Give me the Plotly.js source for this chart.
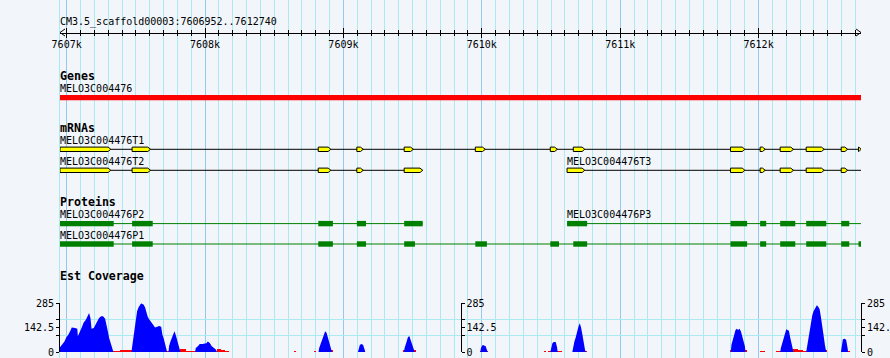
<!DOCTYPE html>
<html>
<head>
<meta charset="utf-8">
<script src="https://cdn.plot.ly/plotly-3.0.1.min.js"></script>
<style>html,body{margin:0;padding:0;background:#f2f5fa;}</style>
</head>
<body>
<div id="chart" style="width:890px;height:358px;"></div>
<script>
// ---------------- DATA ----------------
const regionStart = 7606952;
const regionEnd = 7612740;
const regionLabel = 'CM3.5_scaffold00003:7606952..7612740';
const rulerTickVals = [7607000, 7608000, 7609000, 7610000, 7611000, 7612000];
const rulerTickText = ['7607k', '7608k', '7609k', '7610k', '7611k', '7612k'];

const trackTitles = ['Genes', 'mRNAs', 'Proteins', 'Est Coverage'];

const geneNames = ['MELO3C004476'];
const geneStarts = [7606952];
const geneEnds = [7612740];

const mrnaNames = ['MELO3C004476T1', 'MELO3C004476T2', 'MELO3C004476T3'];
const mrnaStarts = [7606952, 7606952, 7610616];
const mrnaEnds = [7612740, 7609573, 7612740];
const t1ExonStarts = [7606952, 7607473, 7608818, 7609097, 7609439, 7609953, 7610495, 7610661, 7611797, 7612011, 7612156, 7612344, 7612597, 7612722];
const t1ExonEnds   = [7607319, 7607606, 7608909, 7609143, 7609505, 7610025, 7610546, 7610744, 7611901, 7612048, 7612252, 7612474, 7612643, 7612740];
const t2ExonStarts = [7606952, 7607473, 7608818, 7609097, 7609439];
const t2ExonEnds   = [7607319, 7607606, 7608909, 7609143, 7609573];
const t3ExonStarts = [7610616, 7611797, 7612011, 7612156, 7612344, 7612597];
const t3ExonEnds   = [7610744, 7611901, 7612048, 7612252, 7612474, 7612643];

const proteinNames = ['MELO3C004476P2', 'MELO3C004476P1', 'MELO3C004476P3'];
const proteinStarts = [7606952, 7606952, 7610616];
const proteinEnds = [7609573, 7612740, 7612740];
const p2CdsStarts = [7606952, 7607473, 7608818, 7609097, 7609439];
const p2CdsEnds   = [7607340, 7607622, 7608924, 7609163, 7609573];
const p1CdsStarts = [7606952, 7607473, 7608818, 7609097, 7609439, 7609953, 7610495, 7610661, 7611797, 7612011, 7612156, 7612344, 7612597, 7612722];
const p1CdsEnds   = [7607340, 7607622, 7608924, 7609163, 7609517, 7610037, 7610558, 7610761, 7611917, 7612055, 7612265, 7612489, 7612655, 7612740];
const p3CdsStarts = [7610616, 7611797, 7612011, 7612156, 7612344, 7612597];
const p3CdsEnds   = [7610761, 7611917, 7612055, 7612265, 7612489, 7612655];

const coveragePos = [
  7606952, 7606969, 7606984, 7606998, 7607012, 7607027, 7607037, 7607061, 7607077, 7607081, 7607094, 7607109, 7607123, 7607138, 7607152, 7607162, 7607172, 7607180,
  7607196, 7607205, 7607220, 7607234, 7607249, 7607263, 7607278, 7607287, 7607297, 7607307, 7607321, 7607331, 7607338,
  7607468, 7607472, 7607480, 7607490, 7607499, 7607509, 7607519, 7607528, 7607538, 7607548, 7607557, 7607567, 7607577, 7607586, 7607596, 7607610, 7607625,
  7607639, 7607654, 7607668, 7607683, 7607692, 7607702, 7607711, 7607721, 7607726,
  7607736, 7607740, 7607750, 7607765, 7607779, 7607789, 7607798, 7607808, 7607818, 7607822,
  7607928, 7607933, 7607948, 7607962, 7607981, 7607996, 7608010, 7608020, 7608034, 7608049, 7608063, 7608078, 7608087,
  7608820, 7608825, 7608840, 7608854, 7608868, 7608878, 7608888, 7608902, 7608912, 7608917,
  7609105, 7609110, 7609119, 7609134, 7609143, 7609153, 7609158,
  7609437, 7609442, 7609457, 7609466, 7609476, 7609486, 7609500, 7609510, 7609515,
  7609989, 7609994, 7610004, 7610013, 7610028, 7610037, 7610042,
  7610495, 7610500, 7610510, 7610520, 7610534, 7610544, 7610548,
  7610654, 7610659, 7610669, 7610679, 7610688, 7610698, 7610708, 7610717, 7610727, 7610736, 7610746, 7610751,
  7611799, 7611804, 7611814, 7611823, 7611833, 7611843, 7611852, 7611862, 7611872, 7611881, 7611891, 7611901, 7611905,
  7612156, 7612161, 7612171, 7612180, 7612190, 7612200, 7612209, 7612219, 7612228, 7612238, 7612248, 7612252,
  7612344, 7612349, 7612359, 7612368, 7612378, 7612388, 7612397, 7612412, 7612421, 7612431, 7612441, 7612450, 7612460, 7612469, 7612479, 7612484, 7612489,
  7612595, 7612600, 7612609, 7612624, 7612633, 7612643, 7612647, 7612740
];
const coverageVal = [
  28, 47, 62, 86, 101, 125, 144, 140, 136, 92, 121, 144, 172, 187, 211, 228, 199, 136,
  140, 156, 183, 199, 209, 209, 195, 168, 125, 82, 43, 14, 0,
  0, 23, 62, 121, 179, 238, 261, 277, 285, 281, 277, 261, 230, 207, 191, 172, 160,
  144, 148, 152, 148, 101, 78, 43, 20, 0,
  0, 33, 62, 98, 121, 98, 72, 43, 8, 0,
  0, 23, 33, 47, 47, 51, 51, 62, 53, 33, 23, 14, 0,
  0, 23, 62, 98, 121, 113, 86, 43, 14, 0,
  0, 20, 43, 47, 39, 14, 0,
  0, 23, 62, 86, 94, 72, 33, 10, 0,
  0, 23, 39, 39, 33, 8, 0,
  0, 23, 51, 58, 58, 27, 0,
  0, 23, 62, 86, 121, 148, 168, 144, 101, 43, 12, 0,
  0, 43, 66, 98, 129, 136, 129, 136, 121, 98, 62, 33, 0,
  0, 23, 53, 86, 117, 133, 129, 125, 86, 43, 8, 0,
  0, 23, 82, 131, 179, 215, 238, 257, 273, 265, 250, 207, 160, 101, 43, 10, 0,
  0, 43, 74, 78, 70, 23, 0, 0
];
const lowCovStarts = [7607335, 7607384, 7607721, 7607820, 7607866, 7608087, 7608116, 7608145, 7608642, 7608786, 7608912, 7609430, 7609510, 7609985, 7610037, 7610452, 7610476, 7610544, 7610746, 7611794, 7611905, 7612007, 7612123, 7612248, 7612282, 7612320, 7612479, 7612542, 7612647];
const lowCovEnds   = [7607384, 7607470, 7607740, 7607866, 7607933, 7608116, 7608145, 7608174, 7608656, 7608801, 7608926, 7609442, 7609522, 7609994, 7610045, 7610461, 7610500, 7610578, 7610760, 7611804, 7611915, 7612046, 7612161, 7612282, 7612320, 7612349, 7612494, 7612546, 7612657];
const lowCovVal    = [8, 14, 8, 18, 8, 20, 14, 8, 6, 6, 14, 10, 10, 8, 8, 5, 5, 8, 8, 10, 10, 5, 5, 20, 14, 8, 10, 5, 8];

const coverageMax = 285;
const coverageTickVals = [0, 95, 142.5, 190, 285];
const coverageTickText = ['0', '', '142.5', '', '285'];
const coverageGridVals = [0, 95, 190, 285];

// ---------------- STYLE / LAYOUT ----------------
const W = 890, H = 358;
const M = {l: 60, r: 29, t: 0, b: 0};
const plotW = W - M.l - M.r;
const bpPerPx = (regionEnd - regionStart) / plotW;
const BG = '#f2f5fa';
const MINOR_GRID = '#aaeaf0';
const MAJOR_GRID = '#94c8ee';
const MONO = 'DejaVu Sans Mono, monospace';
const XR = [regionStart, regionEnd];

const rows = {
  title: 22, ruler: 32.5,
  genesHead: 76.3, geneLabel: 88.3, geneBar: 97.6,
  mrnaHead: 127.7, mrnaLabel: [140, 161, 161], mrnaLine: [149.3, 170.3, 170.3],
  protHead: 202, protLabel: [214.3, 235, 214.3], protLine: [223.6, 244, 223.6],
  covHead: 276.3, covTop: 303.3, covBase: 352
};

const shapes = [];
const annotations = [];

function ann(text, x, xref, y, opts) {
  annotations.push(Object.assign({
    text: text, x: x, xref: xref, y: y, yref: 'y', xanchor: 'left', yanchor: 'middle',
    showarrow: false, font: {family: MONO, size: 10, color: '#000'}, borderpad: 0, xshift: -1
  }, opts || {}));
}

ann(regionLabel, 0, 'paper', rows.title);
const headY = [rows.genesHead, rows.mrnaHead, rows.protHead, rows.covHead];
trackTitles.forEach((t, i) => ann('<b>' + t + '</b>', 0, 'paper', headY[i], {font: {family: MONO, size: 11.6, color: '#000'}}));

const ah = 5 * bpPerPx;
shapes.push({type: 'path', xref: 'x', yref: 'y', path: `M${regionStart + ah},${rows.ruler - 3.5} L${regionStart},${rows.ruler} L${regionStart + ah},${rows.ruler + 3.5}`, line: {color: '#000', width: 1}});
shapes.push({type: 'path', xref: 'x', yref: 'y', path: `M${regionEnd - ah},${rows.ruler - 3.5} L${regionEnd},${rows.ruler} L${regionEnd - ah},${rows.ruler + 3.5}`, line: {color: '#000', width: 1}});

geneNames.forEach((g, i) => {
  ann(g, geneStarts[i], 'x', rows.geneLabel);
  shapes.push({type: 'rect', xref: 'x', yref: 'y', x0: geneStarts[i], x1: geneEnds[i], y0: rows.geneBar - 2.6, y1: rows.geneBar + 2.6, fillcolor: '#ff0000', line: {width: 0}});
});

const tip = 2.7 * bpPerPx;
const mrnaExons = [[t1ExonStarts, t1ExonEnds], [t2ExonStarts, t2ExonEnds], [t3ExonStarts, t3ExonEnds]];
mrnaNames.forEach((n, i) => {
  const yc = rows.mrnaLine[i];
  ann(n, mrnaStarts[i], 'x', rows.mrnaLabel[i]);
  shapes.push({type: 'line', xref: 'x', yref: 'y', x0: mrnaStarts[i], x1: mrnaEnds[i], y0: yc, y1: yc, line: {color: '#000', width: 1}});
  const [ss, ee] = mrnaExons[i];
  ss.forEach((s, k) => {
    const e = ee[k];
    const t = Math.min(tip, (e - s) * 0.8);
    const h = 2.2;
    shapes.push({type: 'path', xref: 'x', yref: 'y',
      path: `M${s},${yc - h} L${e - t},${yc - h} L${e},${yc} L${e - t},${yc + h} L${s},${yc + h} Z`,
      fillcolor: '#ffff00', line: {color: '#000', width: 1}});
  });
});

const protCds = [[p2CdsStarts, p2CdsEnds], [p1CdsStarts, p1CdsEnds], [p3CdsStarts, p3CdsEnds]];
proteinNames.forEach((n, i) => {
  const yc = rows.protLine[i];
  ann(n, proteinStarts[i], 'x', rows.protLabel[i]);
  shapes.push({type: 'line', xref: 'x', yref: 'y', x0: proteinStarts[i], x1: proteinEnds[i], y0: yc, y1: yc, line: {color: '#008000', width: 1}});
  const [ss, ee] = protCds[i];
  ss.forEach((s, k) => {
    shapes.push({type: 'rect', xref: 'x', yref: 'y', x0: s, x1: ee[k], y0: yc - 2.7, y1: yc + 2.7, fillcolor: '#008000', line: {width: 0}});
  });
});

// ---------------- TRACES ----------------
const traces = [];
function holder(xa, ya, yv) {
  traces.push({type: 'scatter', mode: 'markers', x: [regionStart], y: [yv], xaxis: xa, yaxis: ya, marker: {opacity: 0, size: 1}, showlegend: false, hoverinfo: 'skip'});
}
holder('x', 'y', 0);
holder('x2', 'y', 0);
holder('x3', 'y', 0);
traces.push({type: 'bar', x: lowCovStarts.map((s, i) => (s + lowCovEnds[i]) / 2), width: lowCovEnds.map((e, i) => e - lowCovStarts[i]),
  y: lowCovVal, xaxis: 'x', yaxis: 'y2', marker: {color: '#ff0000', line: {width: 0}}, showlegend: false, hoverinfo: 'skip'});
traces.push({type: 'scatter', mode: 'lines', x: coveragePos, y: coverageVal, xaxis: 'x', yaxis: 'y2', fill: 'tozeroy',
  fillcolor: '#0000ff', line: {width: 0, color: '#0000ff'}, showlegend: false, hoverinfo: 'skip'});
holder('x', 'y3', 0);
holder('x', 'y4', 0);
holder('x', 'y5', 0);

const covDomain = [1 - rows.covBase / H, 1 - rows.covTop / H];
const rulerPos = 1 - rows.ruler / H;
const covAxisCommon = {
  range: [0, coverageMax], autorange: false, tickmode: 'array', tickvals: coverageTickVals, ticktext: coverageTickText,
  ticks: 'outside', ticklen: 3, tickcolor: '#000', showline: true, linecolor: '#000', linewidth: 1,
  showgrid: false, zeroline: false, tickfont: {family: MONO, size: 10, color: '#000'}, fixedrange: true
};
const rulerCommon = {
  overlaying: 'x', range: XR, autorange: false, anchor: 'free', position: rulerPos, side: 'bottom',
  tickmode: 'array', tickvals: rulerTickVals, ticklen: 4.5, tickcolor: '#000', showgrid: false, zeroline: false,
  tickfont: {family: MONO, size: 10, color: '#000'}
};

const layout = {
  width: W, height: H, margin: M, paper_bgcolor: BG, plot_bgcolor: BG, showlegend: false,
  font: {family: MONO, size: 10, color: '#000'},
  bargap: 0,
  xaxis: {
    domain: [0, 1], range: XR, autorange: false, anchor: 'y',
    tickmode: 'linear', tick0: rulerTickVals[0], dtick: 1000, showticklabels: false, ticks: '',
    showgrid: true, gridcolor: MAJOR_GRID, gridwidth: 1, zeroline: false, showline: false,
    minor: {dtick: 100, tick0: rulerTickVals[0], showgrid: true, gridcolor: MINOR_GRID, gridwidth: 1}
  },
  xaxis2: Object.assign({}, rulerCommon, {ticktext: rulerTickText, ticks: 'outside', showline: true, linecolor: '#000', linewidth: 1,
    ticklabelstandoff: -2,
    minor: {dtick: 100, tick0: rulerTickVals[0], ticks: 'outside', ticklen: 2.5, tickcolor: '#000'}}),
  xaxis3: Object.assign({}, rulerCommon, {ticks: 'inside', showticklabels: false, showline: false,
    minor: {dtick: 100, tick0: rulerTickVals[0], ticks: 'inside', ticklen: 2.5, tickcolor: '#000'}}),
  yaxis: {
    domain: [0, 1], range: [H, 0], autorange: false, anchor: 'x', showticklabels: false, ticks: '', showgrid: false, zeroline: false,
    showline: true, linecolor: MINOR_GRID, linewidth: 1, fixedrange: true
  },
  yaxis2: {domain: covDomain, anchor: 'x', range: [0, coverageMax], autorange: false, tickmode: 'array', tickvals: coverageGridVals,
    showgrid: true, gridcolor: MINOR_GRID, showticklabels: false, ticks: '', showline: false, zeroline: false},
  yaxis3: Object.assign({}, covAxisCommon, {overlaying: 'y2', anchor: 'x', side: 'left'}),
  yaxis4: Object.assign({}, covAxisCommon, {overlaying: 'y2', anchor: 'free', position: 0.5, side: 'right'}),
  yaxis5: Object.assign({}, covAxisCommon, {overlaying: 'y2', anchor: 'free', position: 1, side: 'right'}),
  shapes: shapes,
  annotations: annotations
};

Plotly.newPlot('chart', traces, layout, {displayModeBar: false, staticPlot: true});
</script>
</body>
</html>
